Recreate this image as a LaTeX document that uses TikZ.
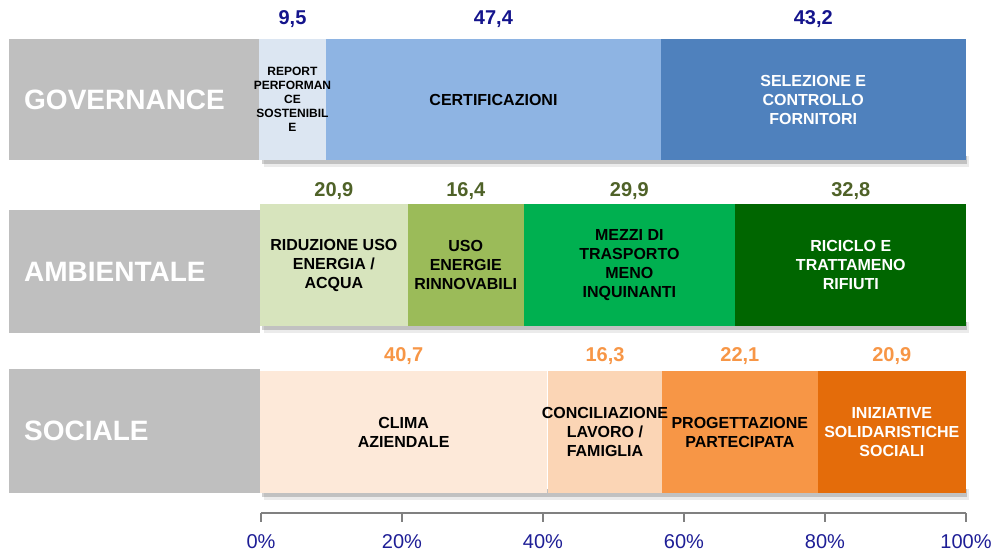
\documentclass[tikz,border=0pt]{standalone}
\usepackage{fontspec}
\setmainfont{Liberation Sans}
\usetikzlibrary{positioning}

\definecolor{catgray}{RGB}{191,191,191}
\definecolor{govA}{RGB}{220,230,242}
\definecolor{govB}{RGB}{142,180,227}
\definecolor{govC}{RGB}{79,129,189}
\definecolor{ambA}{RGB}{215,228,189}
\definecolor{ambB}{RGB}{155,187,89}
\definecolor{ambC}{RGB}{0,176,80}
\definecolor{ambD}{RGB}{0,102,0}
\definecolor{socA}{RGB}{253,233,217}
\definecolor{socB}{RGB}{251,213,181}
\definecolor{socC}{RGB}{247,150,70}
\definecolor{socD}{RGB}{228,108,10}
\definecolor{govtxt}{RGB}{20,20,140}
\definecolor{ambtxt}{RGB}{79,98,40}
\definecolor{soctxt}{RGB}{247,150,70}
\definecolor{axtxt}{RGB}{30,30,150}
\definecolor{axgray}{RGB}{128,128,128}

\newcommand{\pc}{7.05pt}

\tikzset{
  catbox/.style={anchor=north west, fill=catgray, text=white, inner xsep=15pt, inner ysep=0pt,
    minimum width=251pt, text width=221pt, align=left, font=\bfseries\fontsize{28}{32}\selectfont},
  seg/.style={rectangle, inner sep=0pt, align=center, font=\bfseries\fontsize{16}{19}\selectfont},
  govseg/.style={seg, minimum height=121pt},
  ambseg/.style={seg, minimum height=122pt},
  socseg/.style={seg, minimum height=122pt},
  val/.style={inner sep=0pt, font=\bfseries\fontsize{20}{24}\selectfont},
  govval/.style={val, text=govtxt},
  ambval/.style={val, text=ambtxt},
  socval/.style={val, text=soctxt},
  axisline/.style={draw=axgray, line width=1.3pt},
  ticklab/.style={text=axtxt, font=\fontsize{20}{24}\selectfont}
}

\begin{document}
\begin{tikzpicture}[x=1pt, y=-1pt]
  \useasboundingbox (0,0) rectangle (999,557);

  % shadows under the bars
  \foreach \b in {160, 326, 493} {
    \fill[black, opacity=0.08] (264,\b-4) rectangle (969,\b+7);
    \fill[black, opacity=0.18] (262,\b-4) rectangle (967,\b+4);
  }

  % categories
  \node[catbox, minimum height=121pt] (gov) at (9,39) {GOVERNANCE};
  \node[catbox, minimum height=123pt] (amb) at (9,210) {AMBIENTALE};
  \node[catbox, minimum height=124pt] (soc) at (9,369) {SOCIALE};

  % governance (right to left, so the small text stays on top)
  \node[govseg, fill=govC, text=white, minimum width=43.2*\pc, anchor=north east] (g3) at (965.7,39) {SELEZIONE E\\CONTROLLO\\FORNITORI};
  \node[govseg, fill=govB, minimum width=47.4*\pc, left=0pt of g3] (g2) {CERTIFICAZIONI};
  \node[govseg, fill=govA, minimum width=9.5*\pc, inner xsep=-6pt, left=0pt of g2,
    font=\bfseries\fontsize{12}{14}\selectfont] (g1) {REPORT\\PERFORMAN\\CE\\SOSTENIBIL\\E};

  \node[govval, above=11pt of g1] (gv1) {9,5};
  \node[govval, above=11pt of g2] (gv2) {47,4};
  \node[govval, above=11pt of g3] (gv3) {43,2};

  % ambientale
  \node[ambseg, fill=ambA, minimum width=20.9*\pc, anchor=north west] (a1) at (260,204) {RIDUZIONE USO\\ENERGIA /\\ACQUA};
  \node[ambseg, fill=ambB, minimum width=16.4*\pc, right=0pt of a1] (a2) {USO\\ENERGIE\\RINNOVABILI};
  \node[ambseg, fill=ambC, minimum width=29.9*\pc, right=0pt of a2] (a3) {MEZZI DI\\TRASPORTO\\MENO\\INQUINANTI};
  \node[ambseg, fill=ambD, text=white, minimum width=32.8*\pc, right=0pt of a3] (a4) {RICICLO E\\TRATTAMENO\\RIFIUTI};

  \node[ambval, above=4pt of a1] (av1) {20,9};
  \node[ambval, above=4pt of a2] (av2) {16,4};
  \node[ambval, above=4pt of a3] (av3) {29,9};
  \node[ambval, above=4pt of a4] (av4) {32,8};

  % sociale
  \node[socseg, fill=socA, minimum width=40.7*\pc, anchor=north west] (s1) at (260,371) {CLIMA\\AZIENDALE};
  \node[socseg, fill=socD, text=white, minimum width=20.9*\pc, anchor=north east] (s4) at (965.7,371) {INIZIATIVE\\SOLIDARISTICHE\\SOCIALI};
  \node[socseg, fill=socC, minimum width=22.1*\pc, left=0pt of s4] (s3) {PROGETTAZIONE\\PARTECIPATA};
  \node[socseg, fill=socB, minimum width=16.3*\pc, inner xsep=-8pt, right=0pt of s1] (s2) {CONCILIAZIONE\\LAVORO /\\FAMIGLIA};

  \node[socval, above=6pt of s1] (sv1) {40,7};
  \node[socval, above=6pt of s2] (sv2) {16,3};
  \node[socval, above=6pt of s3] (sv3) {22,1};
  \node[socval, above=6pt of s4] (sv4) {20,9};

  % axis
  \coordinate (ax0) at (261,513);
  \coordinate (ax1) at (966,513);
  \draw[axisline] (ax0) -- (ax1);
  \foreach \p [count=\i from 0] in {0,20,40,60,80,100} {
    \coordinate (t\i) at ({261+141*\i},513);
    \draw[axisline] (t\i) -- ++(0,9);
    \node[ticklab] (l\i) at ({261+141*\i},542) {\p\%};
  }
\end{tikzpicture}
\end{document}
